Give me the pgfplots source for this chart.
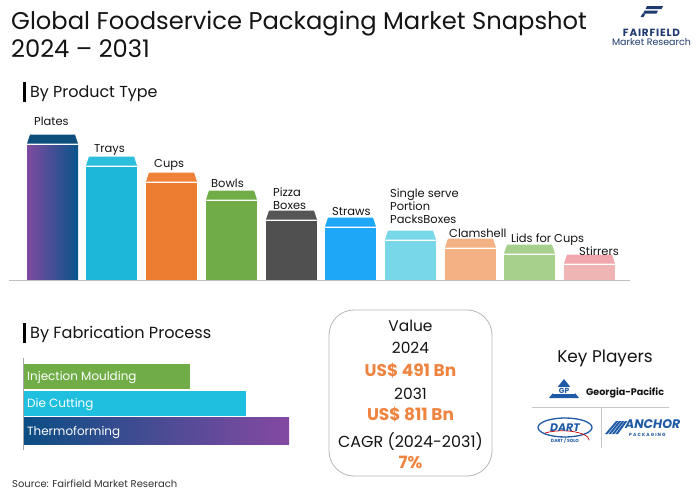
\documentclass[border=0pt]{standalone}
\usepackage{fontspec}
\setmainfont{Poppins}
\usepackage{pgfplots}
\pgfplotsset{compat=1.18}
\definecolor{plL}{HTML}{7F4AA0}
\definecolor{plR}{HTML}{08548A}
\definecolor{plC}{HTML}{0E4E7D}
\definecolor{tr}{HTML}{1DB8D9}
\definecolor{trC}{HTML}{2BBFDD}
\definecolor{cu}{HTML}{ED7D31}
\definecolor{cuC}{HTML}{EF8236}
\definecolor{bo}{HTML}{71AD47}
\definecolor{pz}{HTML}{505050}
\definecolor{pzC}{HTML}{555555}
\definecolor{st}{HTML}{1EA7F7}
\definecolor{ss}{HTML}{78D8EA}
\definecolor{cl}{HTML}{F4B183}
\definecolor{li}{HTML}{A8D08D}
\definecolor{sr}{HTML}{EFB5B5}
\definecolor{srC}{HTML}{F2A6AE}
\definecolor{inj}{HTML}{70AD47}
\definecolor{die}{HTML}{1FBFE0}
\definecolor{thL}{HTML}{0B4E84}
\definecolor{thR}{HTML}{8549A2}
\definecolor{org}{HTML}{EE8440}
\definecolor{navy}{HTML}{1E3A6E}
\definecolor{gpb}{HTML}{1F5AA6}
\definecolor{txt}{HTML}{141414}
\pgfdeclareplotmark{fcap}{%
 \pgfpathmoveto{\pgfqpoint{-25.5bp}{1.3bp}}%
 \pgfpathlineto{\pgfqpoint{25.5bp}{1.3bp}}%
 \pgfpathlineto{\pgfqpoint{22.5bp}{10.5bp}}%
 \pgfpathlineto{\pgfqpoint{-22.5bp}{10.5bp}}%
 \pgfpathclose\pgfusepathqfill}
\pgfplotsset{vb/.style={ybar, bar width=51bp, bar shift=0pt, draw=none},
  cp/.style={only marks, mark=fcap, mark options={fill=#1, draw=none}}}
\newcommand{\fs}[1]{\fontsize{#1}{#1}\selectfont}
\begin{document}
\begin{tikzpicture}
\path[use as bounding box, fill=white] (0,0) rectangle (700bp,-491bp);
% product type bars
\begin{axis}[at={(0,-280bp)}, anchor=origin, x=1bp, y=1bp, xmin=0, xmax=700, ymin=0, ymax=180, hide axis, clip=false]
\addplot[vb, left color=plL, right color=plR] coordinates {(52.5,135)};
\addplot[cp=plC] coordinates {(52.5,135)};
\addplot[vb, fill=tr] coordinates {(111.5,113)};
\addplot[cp=trC] coordinates {(111.5,113)};
\addplot[vb, fill=cu] coordinates {(171.5,97)};
\addplot[cp=cuC] coordinates {(171.5,97)};
\addplot[vb, fill=bo] coordinates {(231.5,79)};
\addplot[cp=bo] coordinates {(231.5,79)};
\addplot[vb, fill=pz] coordinates {(291.5,59)};
\addplot[cp=pzC] coordinates {(291.5,59)};
\addplot[vb, fill=st] coordinates {(350.5,52)};
\addplot[cp=st] coordinates {(350.5,52)};
\addplot[vb, fill=ss] coordinates {(410.5,39)};
\addplot[cp=ss] coordinates {(410.5,39)};
\addplot[vb, fill=cl] coordinates {(470.5,31)};
\addplot[cp=cl] coordinates {(470.5,31)};
\addplot[vb, fill=li] coordinates {(529.5,25)};
\addplot[cp=li] coordinates {(529.5,25)};
\addplot[vb, fill=sr] coordinates {(589.5,15)};
\addplot[cp=srC] coordinates {(589.5,15)};
\end{axis}
% fabrication bars
\begin{axis}[at={(23bp,-450bp)}, anchor=origin, x=1bp, y=1bp, xmin=0, xmax=300, ymin=0, ymax=100, hide axis, clip=false]
\addplot[xbar, bar width=25bp, bar shift=0pt, draw=none, fill=inj] coordinates {(167,74)};
\addplot[xbar, bar width=25bp, bar shift=0pt, draw=none, fill=die] coordinates {(223,47)};
\addplot[xbar, bar width=27bp, bar shift=0pt, draw=none, left color=thL, right color=thR] coordinates {(266,19.5)};
\end{axis}
\begin{scope}[x=1bp, y=-1bp]
% title
\node[anchor=base west, inner sep=0, text=txt] at (11,29) {\fs{24.3}Global Foodservice Packaging Market Snapshot};
\node[anchor=base west, inner sep=0, text=txt] at (11,57) {\fs{24.3}2024 -- 2031};
% logo
\fill[navy] (647,6) -- (663,6) -- (661.5,9) -- (645.5,9) -- cycle;
\fill[navy] (644.5,10.5) -- (658,10.5) -- (656.5,13.5) -- (643,13.5) -- cycle;
\fill[navy] (642.5,13.5) -- (645.5,13.5) -- (643.5,17) -- (640.5,17) -- cycle;
\node[anchor=base, inner sep=0, text=navy] at (651.5,36) {\fs{10.5}\addfontfeature{LetterSpace=8}\bfseries FAIRFIELD};
\node[anchor=base, inner sep=0, text=navy] at (651.5,45.5) {\fs{9.5}Market Research};
% section headers
\fill[black] (22.5,82) rectangle (25.5,102);
\node[anchor=base west, inner sep=0, text=txt] at (30,97.3) {\fs{16}By Product Type};
\fill[black] (22.5,323) rectangle (25.5,343);
\node[anchor=base west, inner sep=0, text=txt] at (30,338) {\fs{16.2}By Fabrication Process};
% baseline
\draw[color=black!25, line width=1.2bp] (9,280.5) -- (630,280.5);
% bar labels
\begin{scope}[every node/.style={anchor=base west, inner sep=0, text=txt, font=\fs{11.5}}]
\node at (34,125) {Plates};
\node at (94,152) {Trays};
\node at (154,167) {Cups};
\node at (211,187) {Bowls};
\node at (273,196) {Pizza};
\node at (273,209) {Boxes};
\node at (332,215.5) {Straws};
\node at (390,197) {Single serve};
\node at (390,210) {Portion};
\node at (390,223) {PacksBoxes};
\node at (449,237) {Clamshell};
\node at (511,242) {Lids for Cups};
\node at (579,255) {Stirrers};
\end{scope}
% fabrication axis line and labels
\draw[color=black!35, line width=0.8bp] (23,358) -- (23,450);
\begin{scope}[every node/.style={anchor=base west, inner sep=0, text=white, font=\fs{12}}]
\node at (27,380.5) {Injection Moulding};
\node at (27,407.5) {Die Cutting};
\node at (27,435) {Thermoforming};
\end{scope}
% value box
\draw[color=black!28, line width=0.8bp, rounded corners=25bp] (329,310) rectangle (492,476);
\begin{scope}[every node/.style={anchor=base, inner sep=0}]
\node[text=txt] at (410.5,331.7) {\fs{15.5}Value};
\node[text=txt] at (410.5,353) {\fs{15.5}2024};
\node[text=org] at (410.5,376) {\fs{17}\bfseries US\$ 491 Bn};
\node[text=txt] at (410.5,399) {\fs{15.5}2031};
\node[text=org] at (410.5,420.7) {\fs{17}\bfseries US\$ 811 Bn};
\node[text=txt] at (410.5,447.7) {\fs{16}CAGR (2024-2031)};
\node[text=org] at (410.5,468) {\fs{17}\bfseries 7\%};
\node[text=txt] at (605,362) {\fs{17}Key Players};
\end{scope}
% key player logos
\fill[gpb] (549,398) -- (564,379) -- (579,398) -- cycle;
\fill[white] (553,387) rectangle (575,394);
\node[anchor=center, inner sep=0, text=gpb] at (564,390.8) {\fs{7.5}\bfseries GP};
\node[anchor=base west, inner sep=0, text=txt] at (586,395) {\fs{9.6}\bfseries Georgia-Pacific};
\draw[color=black!22, line width=0.6bp] (532,407.5) -- (669,407.5);
\draw[color=black!22, line width=0.6bp] (601,407.5) -- (601,448);
\draw[color=gpb, line width=1.3bp] (565,427.5) ellipse [x radius=27, y radius=9.5];
\draw[color=red!80!black, line width=0.7bp] (545,433) arc[start angle=230, end angle=360, x radius=27, y radius=9.5];
\node[anchor=center, inner sep=0, text=gpb] at (565,427.5) {\fs{11}\bfseries\itshape DART};
\node[anchor=center, inner sep=0, text=gpb] at (565,441) {\fs{4.5}\bfseries DART / SOLO};
\foreach \k in {0,1,2,3} {\fill[gpb] (605+\k*3.5,434) -- (616+\k*3,421) -- (618.5+\k*3,421) -- (607.5+\k*3.5,434) -- cycle;}
\node[anchor=base west, inner sep=0, text=gpb] at (625,428.5) {\fs{12.5}\bfseries\itshape ANCHOR};
\node[anchor=base west, inner sep=0, text=gpb] at (629,436.5) {\fs{4.5}\bfseries\addfontfeature{LetterSpace=25}PACKAGING};
% source
\node[anchor=base west, inner sep=0, text=black!80] at (12,487) {\fs{10}Source: Fairfield Market Reserach};
\end{scope}
\end{tikzpicture}
\end{document}
